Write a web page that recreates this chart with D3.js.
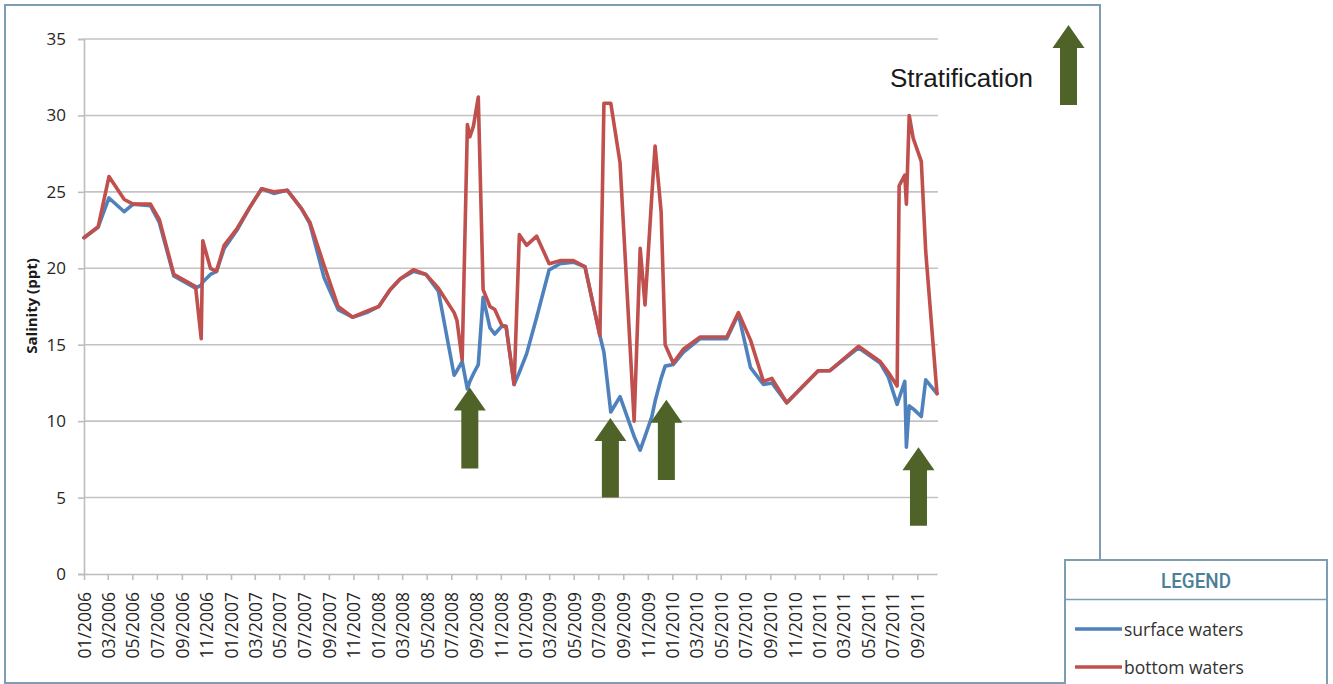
<!DOCTYPE html>
<html><head><meta charset="utf-8">
<script src="https://cdn.jsdelivr.net/npm/d3@7/dist/d3.min.js"></script>
<style>body{margin:0;background:#fff}</style>
</head><body>
<svg id="c" width="1333" height="684"></svg>
<script>
// ---- data ----
const sampleDates = [
"2006-01-01","2006-02-05","2006-03-04","2006-04-11","2006-05-03","2006-06-15","2006-07-07","2006-08-12","2006-10-05","2006-10-19",
"2006-10-23","2006-11-11","2006-11-26","2006-12-15","2007-01-16","2007-02-17","2007-03-18","2007-04-17","2007-05-21","2007-06-25",
"2007-07-16","2007-08-20","2007-09-24","2007-10-30","2007-12-04","2008-01-03","2008-01-31","2008-02-25","2008-03-29","2008-04-29",
"2008-05-30","2008-07-08","2008-07-15","2008-07-28","2008-08-10","2008-08-16","2008-08-25","2008-09-06","2008-09-18","2008-10-05",
"2008-10-17","2008-11-03","2008-11-14","2008-12-04","2008-12-17","2009-01-04","2009-01-29","2009-03-01","2009-03-28","2009-04-30",
"2009-05-29","2009-07-05","2009-07-15","2009-08-01","2009-08-24","2009-09-28","2009-10-13","2009-10-25","2009-11-11","2009-11-19",
"2009-12-04","2009-12-14","2010-01-03","2010-01-28","2010-03-11","2010-05-16","2010-06-14","2010-07-14","2010-08-15","2010-09-05",
"2010-10-12","2010-12-29","2011-01-27","2011-04-08","2011-06-01","2011-06-21","2011-07-13","2011-07-18","2011-08-01","2011-08-05",
"2011-08-12","2011-08-22","2011-09-11","2011-09-22","2011-10-20"
];
const surfaceWaters = [
22.0,22.7,24.6,23.7,24.2,24.1,23.0,19.5,18.7,18.9,
19.1,19.6,19.8,21.3,22.5,24.0,25.2,24.9,25.1,23.9,
22.9,19.4,17.3,16.8,17.1,17.5,18.6,19.3,19.8,19.6,
18.5,13.0,13.3,13.9,12.1,12.6,13.1,13.7,18.1,16.1,
15.7,16.2,16.2,12.4,13.2,14.4,16.8,19.9,20.3,20.4,
20.1,15.6,14.5,10.6,11.6,9.0,8.1,9.0,10.3,11.3,
12.8,13.6,13.7,14.5,15.4,15.4,17.0,13.5,12.4,12.5,
11.2,13.3,13.3,14.8,13.8,12.9,11.1,11.5,12.6,8.3,
11.0,10.8,10.3,12.7,11.8
];
const bottomWaters = [
22.0,22.7,26.0,24.5,24.2,24.2,23.2,19.6,18.8,15.4,
21.8,20.0,19.8,21.5,22.6,24.0,25.2,25.0,25.1,23.9,
23.0,20.2,17.5,16.8,17.2,17.5,18.6,19.3,19.9,19.6,
18.7,17.1,16.6,14.0,29.4,28.6,29.3,31.2,18.6,17.5,
17.3,16.3,16.2,12.4,22.2,21.5,22.1,20.3,20.5,20.5,
20.1,15.6,30.8,30.8,26.9,10.0,21.3,17.6,24.8,28.0,
23.7,15.0,13.8,14.7,15.5,15.5,17.1,15.3,12.6,12.8,
11.2,13.3,13.3,14.9,13.9,13.2,12.3,25.4,26.1,24.2,
30.0,28.5,27.0,21.1,11.8
];
const yTickValues = [0,5,10,15,20,25,30,35];
const xTickLabels = [
"01/2006","03/2006","05/2006","07/2006","09/2006","11/2006",
"01/2007","03/2007","05/2007","07/2007","09/2007","11/2007",
"01/2008","03/2008","05/2008","07/2008","09/2008","11/2008",
"01/2009","03/2009","05/2009","07/2009","09/2009","11/2009",
"01/2010","03/2010","05/2010","07/2010","09/2010","11/2010",
"01/2011","03/2011","05/2011","07/2011","09/2011"
];
const seriesNames = ["surface waters","bottom waters"];
const arrowDates = ["2008-08-16","2009-07-31","2009-12-17","2011-09-04"];
const arrowTipValues = [12.2,10.2,11.4,8.3];
const arrowBaseValues = [6.9,5.0,6.15,3.15];
const axisStart = "2006-01-01", axisEnd = "2011-10-20";

// ---- drawing ----
(function(){
const parseDay = d3.timeParse("%Y-%m-%d");
const parseMonth = d3.timeParse("%m/%Y");
const fmtMonth = d3.timeFormat("%m/%Y");
const svg = d3.select("#c");
const W = 1333, H = 684;
const pLeft = 84, pRight = 937, pTop = 39, pBottom = 574;
const colors = ["#4F81BD","#C0504D"];
const green = "#4F6228";
const frameColor = "#7D9EB2";
const font = "'Open Sans', 'Noto Sans', sans-serif";

svg.append("rect").attr("width",W).attr("height",H).attr("fill","#fff");
svg.append("rect").attr("x",5).attr("y",5).attr("width",1095).attr("height",678)
  .attr("fill","none").attr("stroke",frameColor).attr("stroke-width",2);

const x = d3.scaleTime().domain([parseDay(axisStart), parseDay(axisEnd)]).range([pLeft,pRight]);
const y = d3.scaleLinear().domain([0,35]).range([pBottom,pTop]);

svg.append("g").selectAll("line").data(yTickValues.filter(v=>v>0)).join("line")
  .attr("x1",pLeft).attr("x2",pRight+1).attr("y1",d=>y(d)).attr("y2",d=>y(d))
  .attr("stroke","#C3C3C3").attr("stroke-width",1.6);

const yAxis = svg.append("g").attr("transform",`translate(${pLeft},0)`)
  .call(d3.axisLeft(y).tickValues(yTickValues).tickSize(6).tickPadding(12));
yAxis.select(".domain").attr("stroke","#BDBDBD").attr("stroke-width",1.6);
yAxis.selectAll(".tick line").attr("stroke","#BDBDBD").attr("stroke-width",1.6);
yAxis.selectAll("text").attr("font-family",font).attr("font-size",17).attr("fill","#262626");

const xAxis = svg.append("g").attr("transform",`translate(0,${pBottom})`)
  .call(d3.axisBottom(x).tickValues(xTickLabels.map(parseMonth)).tickFormat(fmtMonth).tickSize(6).tickSizeOuter(0));
xAxis.select(".domain").attr("stroke","#BDBDBD").attr("stroke-width",1.6);
xAxis.selectAll(".tick line").attr("stroke","#BDBDBD").attr("stroke-width",1.6);
xAxis.selectAll("text").attr("font-family",font).attr("font-size",17.5).attr("fill","#262626")
  .attr("text-anchor","end").attr("transform","rotate(-90)")
  .attr("x",-18).attr("y",0).attr("dy","0.36em");

svg.append("text").attr("transform","translate(31,306) rotate(-90)")
  .attr("text-anchor","middle").attr("dominant-baseline","central")
  .attr("font-family",font).attr("font-weight","bold").attr("font-size",15).attr("fill","#1a1a1a")
  .text("Salinity (ppt)");

const rows = sampleDates.map((d,i)=>({date:parseDay(d), s:surfaceWaters[i], b:bottomWaters[i]}));
const lineS = d3.line().x(d=>x(d.date)).y(d=>y(d.s));
const lineB = d3.line().x(d=>x(d.date)).y(d=>y(d.b));
svg.append("path").datum(rows).attr("d",lineS).attr("fill","none").attr("stroke",colors[0])
  .attr("stroke-width",3.6).attr("stroke-linejoin","round").attr("stroke-linecap","round");
svg.append("path").datum(rows).attr("d",lineB).attr("fill","none").attr("stroke",colors[1])
  .attr("stroke-width",3.6).attr("stroke-linejoin","round").attr("stroke-linecap","round");

function arrowPts(cx, ty, by){
  const hw=16, sw=8.5, hh=23;
  return [[cx,ty],[cx+hw,ty+hh],[cx+sw,ty+hh],[cx+sw,by],[cx-sw,by],[cx-sw,ty+hh],[cx-hw,ty+hh]].join(" ");
}
svg.append("g").selectAll("polygon").data(arrowDates).join("polygon")
  .attr("points",(d,i)=>arrowPts(x(parseDay(d)), y(arrowTipValues[i]), y(arrowBaseValues[i])))
  .attr("fill",green);

svg.append("polygon").attr("points",arrowPts(1068.5,25,105)).attr("fill",green);
svg.append("text").attr("x",890).attr("y",87).attr("font-family","'Liberation Sans', Arial, sans-serif")
  .attr("font-size",26).attr("fill","#1a1a1a").text("Stratification");

const lg = svg.append("g");
lg.append("rect").attr("x",1065).attr("y",560).attr("width",262).attr("height",140)
  .attr("fill","#fff").attr("stroke",frameColor).attr("stroke-width",2);
lg.append("line").attr("x1",1065).attr("x2",1327).attr("y1",599.5).attr("y2",599.5)
  .attr("stroke",frameColor).attr("stroke-width",1.5);
lg.append("text").attr("x",1196).attr("y",581).attr("text-anchor","middle").attr("dominant-baseline","central")
  .attr("font-family","Roboto, 'Open Sans', sans-serif").attr("font-weight",500)
  .attr("font-size",21).attr("textLength",70).attr("lengthAdjust","spacingAndGlyphs")
  .attr("fill","#4A7F98").text("LEGEND");
const legY = [629, 667];
seriesNames.forEach((n,i)=>{
  lg.append("line").attr("x1",1075).attr("x2",1122).attr("y1",legY[i]).attr("y2",legY[i])
    .attr("stroke",colors[i]).attr("stroke-width",3.5);
  lg.append("text").attr("x",1124).attr("y",legY[i]).attr("dominant-baseline","central")
    .attr("font-family",font).attr("font-size",17.5).attr("fill","#333").text(n);
});
})();
</script>
</body></html>
